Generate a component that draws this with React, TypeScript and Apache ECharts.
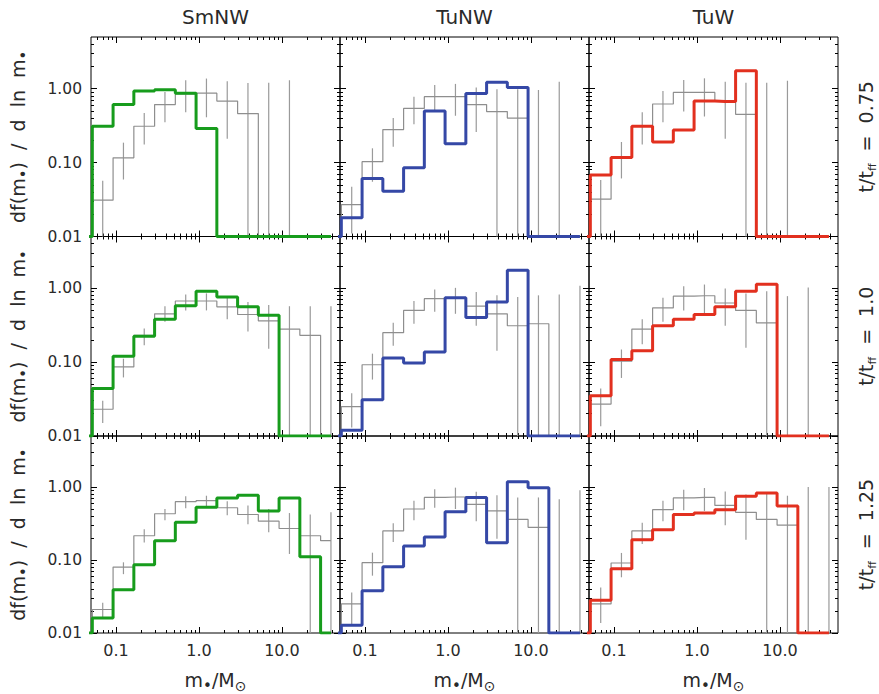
import React, { useEffect, useRef } from "react";
import * as echarts from "echarts";

const runNames = ["SmNW", "TuNW", "TuW"];
const timeLabels = ["0.75", "1.0", "1.25"];
const runColors = ["#179c1c", "#3548a6", "#e2301f"];

// bin centres in M_sun (0.25 dex bins); leadBin is the empty bin left of the axis
const massBins = [0.0692, 0.123, 0.219, 0.389, 0.692, 1.23, 2.19, 3.89, 6.92, 12.3, 21.9, 38.9];
const leadBin = 0.0389;

const xMajorTicks = [0.1, 1, 10];
const xMajorLabels = ["0.1", "1.0", "10.0"];
const xMinorTicks = [0.06, 0.07, 0.08, 0.09, 0.2, 0.3, 0.4, 0.5, 0.6, 0.7, 0.8, 0.9, 2, 3, 4, 5, 6, 7, 8, 9, 20, 30, 40];
const yMajorTicks = [0.01, 0.1, 1];
const yMajorLabels = ["0.01", "0.10", "1.00"];
const yMinorTicks = [0.02, 0.03, 0.04, 0.05, 0.06, 0.07, 0.08, 0.09, 0.2, 0.3, 0.4, 0.5, 0.6, 0.7, 0.8, 0.9, 2, 3, 4];
const xRange = [0.05, 50];
const yRange = [0.01, 5];

// simulation histograms (coloured)
const smnw_t075 = [0.31, 0.61, 0.93, 0.97, 0.87, 0.29, 0, 0, 0, 0, 0, 0];
const tunw_t075 = [0.018, 0.061, 0.041, 0.085, 0.5, 0.18, 0.86, 1.22, 1.04, 0, 0, 0];
const tuw_t075 = [0.068, 0.117, 0.31, 0.19, 0.275, 0.68, 0.67, 1.75, 0, 0, 0, 0];
const smnw_t100 = [0.044, 0.12, 0.224, 0.38, 0.58, 0.91, 0.76, 0.56, 0.43, 0, 0, 0];
const tunw_t100 = [0.012, 0.031, 0.114, 0.097, 0.137, 0.74, 0.4, 0.65, 1.75, 0, 0, 0];
const tuw_t100 = [0.035, 0.108, 0.142, 0.31, 0.38, 0.44, 0.56, 0.91, 1.13, 0, 0, 0];
const smnw_t125 = [0.016, 0.039, 0.086, 0.184, 0.33, 0.53, 0.71, 0.77, 0.47, 0.71, 0.111, 0];
const tunw_t125 = [0.0128, 0.038, 0.081, 0.156, 0.206, 0.46, 0.72, 0.173, 1.18, 0.98, 0, 0];
const tuw_t125 = [0.028, 0.076, 0.19, 0.26, 0.42, 0.44, 0.49, 0.75, 0.83, 0.55, 0, 0];

// reference histograms (grey)
const ref_smnw_t075 = [0.031, 0.116, 0.31, 0.61, 0.85, 0.87, 0.68, 0.46, 0, 0, 0, 0];
const ref_tunw_t075 = [0.027, 0.103, 0.28, 0.54, 0.78, 0.78, 0.61, 0.49, 0.4, 0, 0, 0];
const ref_tuw_t075 = [0.032, 0.117, 0.31, 0.62, 0.89, 0.89, 0.69, 0.45, 0, 0, 0, 0];
const ref_smnw_t100 = [0.023, 0.086, 0.23, 0.45, 0.67, 0.67, 0.56, 0.44, 0.36, 0.28, 0.23, 0];
const ref_tunw_t100 = [0.025, 0.092, 0.25, 0.5, 0.72, 0.74, 0.57, 0.45, 0.31, 0.33, 0, 0];
const ref_tuw_t100 = [0.027, 0.103, 0.28, 0.54, 0.78, 0.79, 0.63, 0.5, 0.34, 0, 0, 0];
const ref_smnw_t125 = [0.021, 0.08, 0.215, 0.43, 0.63, 0.65, 0.52, 0.42, 0.34, 0.27, 0.215, 0.184];
const ref_tunw_t125 = [0.025, 0.092, 0.25, 0.5, 0.72, 0.73, 0.58, 0.47, 0.36, 0.28, 0, 0];
const ref_tuw_t125 = [0.025, 0.091, 0.25, 0.49, 0.71, 0.72, 0.56, 0.45, 0.36, 0.3, 0, 0];

// reference error bars (0 = below plot floor, null = no bar)
const lo_smnw_t075 = [0, 0.059, 0.175, 0.35, 0.48, 0.41, 0.21, 0, 0, 0, null, null];
const hi_smnw_t075 = [0.057, 0.186, 0.47, 0.9, 1.3, 1.37, 1.26, 1.19, 1.2, 1.3, null, null];
const lo_tunw_t075 = [0.011, 0.055, 0.164, 0.33, 0.49, 0.43, 0.26, 0, 0, 0, 0, null];
const hi_tunw_t075 = [0.047, 0.156, 0.4, 0.78, 1.12, 1.16, 1.04, 0.98, 0.98, 0.96, 1.24, null];
const lo_tuw_t075 = [0, 0.061, 0.176, 0.35, 0.49, 0.42, 0.21, 0, 0, 0, null, null];
const hi_tuw_t075 = [0.058, 0.19, 0.48, 0.93, 1.31, 1.38, 1.24, 1.2, 1.2, 1.28, null, null];
const lo_smnw_t100 = [0.015, 0.062, 0.169, 0.35, 0.5, 0.5, 0.38, 0.26, 0.152, 0, 0, 0];
const hi_smnw_t100 = [0.03, 0.111, 0.284, 0.57, 0.82, 0.85, 0.76, 0.65, 0.59, 0.57, 0.57, 0.57];
const lo_tunw_t100 = [0.013, 0.058, 0.166, 0.33, 0.48, 0.45, 0.31, 0.142, 0, 0, 0, 0];
const hi_tunw_t100 = [0.038, 0.13, 0.34, 0.67, 0.96, 1.01, 0.89, 0.8, 0.76, 0.8, 0.82, 1.08];
const lo_tuw_t100 = [0.0135, 0.061, 0.174, 0.35, 0.5, 0.45, 0.31, 0.156, 0, 0, 0, null];
const hi_tuw_t100 = [0.044, 0.148, 0.38, 0.74, 1.06, 1.12, 0.99, 0.85, 0.91, 0.78, 1.02, null];
const lo_smnw_t125 = [0.016, 0.064, 0.174, 0.35, 0.51, 0.54, 0.41, 0.31, 0.24, 0.121, 0, 0];
const hi_smnw_t125 = [0.026, 0.093, 0.264, 0.5, 0.75, 0.76, 0.64, 0.56, 0.5, 0.44, 0.42, 0.45];
const lo_tunw_t125 = [0.013, 0.061, 0.176, 0.35, 0.52, 0.5, 0.34, 0.195, 0, 0, 0, 0];
const hi_tunw_t125 = [0.036, 0.126, 0.32, 0.65, 0.93, 0.98, 0.86, 0.77, 0.72, 0.72, 0.68, 0.9];
const lo_tuw_t125 = [0.0137, 0.058, 0.166, 0.34, 0.48, 0.47, 0.3, 0.19, 0, 0, 0, 0];
const hi_tuw_t125 = [0.042, 0.125, 0.325, 0.65, 0.92, 0.97, 0.87, 0.79, 0.83, 0.76, 1.0, 1.0];

const panels = [
  [
    { sim: smnw_t075, ref: ref_smnw_t075, lo: lo_smnw_t075, hi: hi_smnw_t075 },
    { sim: tunw_t075, ref: ref_tunw_t075, lo: lo_tunw_t075, hi: hi_tunw_t075 },
    { sim: tuw_t075, ref: ref_tuw_t075, lo: lo_tuw_t075, hi: hi_tuw_t075 },
  ],
  [
    { sim: smnw_t100, ref: ref_smnw_t100, lo: lo_smnw_t100, hi: hi_smnw_t100 },
    { sim: tunw_t100, ref: ref_tunw_t100, lo: lo_tunw_t100, hi: hi_tunw_t100 },
    { sim: tuw_t100, ref: ref_tuw_t100, lo: lo_tuw_t100, hi: hi_tuw_t100 },
  ],
  [
    { sim: smnw_t125, ref: ref_smnw_t125, lo: lo_smnw_t125, hi: hi_smnw_t125 },
    { sim: tunw_t125, ref: ref_tunw_t125, lo: lo_tunw_t125, hi: hi_tunw_t125 },
    { sim: tuw_t125, ref: ref_tuw_t125, lo: lo_tuw_t125, hi: hi_tuw_t125 },
  ],
];

const FONT = "'DejaVu Sans', sans-serif";
const TXT = "#2a2a2a";
const GREY = "#8e8e8e";

const L = (v: number) => Math.log10(v);
const LX0 = L(xRange[0]);
const LX1 = L(xRange[1]);
const LY0 = L(yRange[0]);
const LY1 = L(yRange[1]);
const ly = (v: number) => Math.max(L(Math.max(v, yRange[0])), LY0);

const GRID_LEFT = 91;
const GRID_TOP = 37;
const CELL_W = 249;
const CELL_H = 199.5;

function labelFor(ticks: number[], labels: string[], v: number) {
  let best = 0;
  let bd = Infinity;
  ticks.forEach((t, i) => {
    const d = Math.abs(L(t) - v);
    if (d < bd) {
      bd = d;
      best = i;
    }
  });
  return labels[best];
}

function buildOption() {
  const grid: any[] = [];
  const xAxis: any[] = [];
  const yAxis: any[] = [];
  const series: any[] = [];

  const sub = { fontSize: 11, fontFamily: FONT, color: TXT, verticalAlign: "bottom", lineHeight: 24 };
  const dot = { fontSize: 15, fontFamily: FONT, color: TXT, verticalAlign: "bottom", lineHeight: 26 };
  const sun = { fontSize: 14, fontFamily: FONT, color: TXT, verticalAlign: "bottom", lineHeight: 26 };
  const main = { fontSize: 19, fontFamily: FONT, color: TXT, lineHeight: 24 };

  for (let r = 0; r < 3; r++) {
    for (let c = 0; c < 3; c++) {
      const g = r * 3 + c;
      grid.push({
        left: GRID_LEFT + CELL_W * c,
        top: GRID_TOP + CELL_H * r,
        width: CELL_W,
        height: CELL_H,
        show: true,
        borderColor: "#000",
        borderWidth: 1,
        backgroundColor: "transparent",
      });
      const axBase = {
        gridIndex: g,
        type: "value",
        axisLine: { show: false, onZero: false },
        splitLine: { show: false },
        axisLabel: { show: false },
      };
      const tick = (vals: number[], len: number) => ({
        show: true,
        inside: true,
        length: len,
        customValues: vals.map(L),
        lineStyle: { color: "#000", width: 1 },
      });
      // x axes: bottom major, bottom minor, top major, top minor
      xAxis.push({
        ...axBase,
        min: LX0,
        max: LX1,
        position: "bottom",
        axisTick: tick(xMajorTicks, 6),
        axisLabel: {
          show: r === 2,
          customValues: xMajorTicks.map(L),
          formatter: (v: number) => labelFor(xMajorTicks, xMajorLabels, v),
          fontSize: 16,
          fontFamily: FONT,
          color: TXT,
          margin: 9,
        },
        name: r === 2 ? "{a|m}{d|•}{a|/M}{o|⊙}" : "",
        nameLocation: "middle",
        nameGap: 34,
        nameTextStyle: { rich: { a: main, d: dot, o: sun } },
      });
      xAxis.push({ ...axBase, min: LX0, max: LX1, position: "bottom", axisTick: tick(xMinorTicks, 3) });
      xAxis.push({
        ...axBase,
        min: LX0,
        max: LX1,
        position: "top",
        axisTick: tick(xMajorTicks, 6),
        name: r === 0 ? runNames[c] : "",
        nameLocation: "middle",
        nameGap: 10,
        nameTextStyle: { fontSize: 20, fontFamily: FONT, color: TXT },
      });
      xAxis.push({ ...axBase, min: LX0, max: LX1, position: "top", axisTick: tick(xMinorTicks, 3) });

      // y axes: left major, left minor, right major, right minor
      yAxis.push({
        ...axBase,
        min: LY0,
        max: LY1,
        position: "left",
        axisTick: tick(yMajorTicks, 6),
        axisLabel: {
          show: c === 0,
          customValues: yMajorTicks.map(L),
          formatter: (v: number) => labelFor(yMajorTicks, yMajorLabels, v),
          fontSize: 15.5,
          fontFamily: FONT,
          color: TXT,
          margin: 9,
        },
        name: c === 0 ? "{a|df(m}{d|•}{a|)  /  d  ln  m}{d|•}" : "",
        nameLocation: "middle",
        nameRotate: 90,
        nameGap: 60,
        nameTextStyle: { rich: { a: main, d: dot } },
      });
      yAxis.push({ ...axBase, min: LY0, max: LY1, position: "left", axisTick: tick(yMinorTicks, 3) });
      yAxis.push({
        ...axBase,
        min: LY0,
        max: LY1,
        position: "right",
        axisTick: tick(yMajorTicks, 6),
        name: c === 2 ? "{a|t/t}{s|ff}{a|  =  " + timeLabels[r] + "}" : "",
        nameLocation: "middle",
        nameRotate: 90,
        nameGap: 16,
        nameTextStyle: { rich: { a: main, s: sub } },
      });
      yAxis.push({ ...axBase, min: LY0, max: LY1, position: "right", axisTick: tick(yMinorTicks, 3) });

      const p = panels[r][c];
      const xi = g * 4;
      const yi = g * 4;
      const stepData = (vals: number[]) => [
        [L(leadBin), LY0],
        ...massBins.map((m, i) => [L(m), ly(vals[i])]),
      ];
      series.push({
        type: "line",
        xAxisIndex: xi,
        yAxisIndex: yi,
        data: stepData(p.ref),
        step: "middle",
        symbol: "none",
        lineStyle: { color: GREY, width: 1.2 },
        z: 2,
        silent: true,
      });
      const errData: number[][] = [];
      massBins.forEach((m, i) => {
        const hi = p.hi[i];
        const lo = p.lo[i];
        if (hi == null || lo == null) return;
        errData.push([L(m), ly(lo), ly(hi)]);
      });
      series.push({
        type: "custom",
        xAxisIndex: xi,
        yAxisIndex: yi,
        data: errData,
        encode: { x: 0, y: [1, 2] },
        z: 2,
        silent: true,
        renderItem: (params: any, api: any) => {
          const p1 = api.coord([api.value(0), api.value(1)]);
          const p2 = api.coord([api.value(0), api.value(2)]);
          return {
            type: "line",
            shape: { x1: p1[0], y1: p1[1], x2: p2[0], y2: p2[1] },
            style: { stroke: "#9a9a9a", lineWidth: 1.2 },
          };
        },
      });
      series.push({
        type: "line",
        xAxisIndex: xi,
        yAxisIndex: yi,
        data: stepData(p.sim),
        step: "middle",
        symbol: "none",
        lineStyle: { color: runColors[c], width: 3 },
        z: 3,
        silent: true,
      });
    }
  }

  return {
    animation: false,
    backgroundColor: "#ffffff",
    grid,
    xAxis,
    yAxis,
    series,
  };
}

export default function App() {
  const ref = useRef<HTMLDivElement>(null);
  useEffect(() => {
    document.body.style.margin = "0";
    if (!ref.current) return;
    const chart = echarts.init(ref.current, undefined, { renderer: "svg" });
    chart.setOption(buildOption() as any);
    return () => chart.dispose();
  }, []);
  return <div ref={ref} style={{ width: 879, height: 694 }} />;
}
